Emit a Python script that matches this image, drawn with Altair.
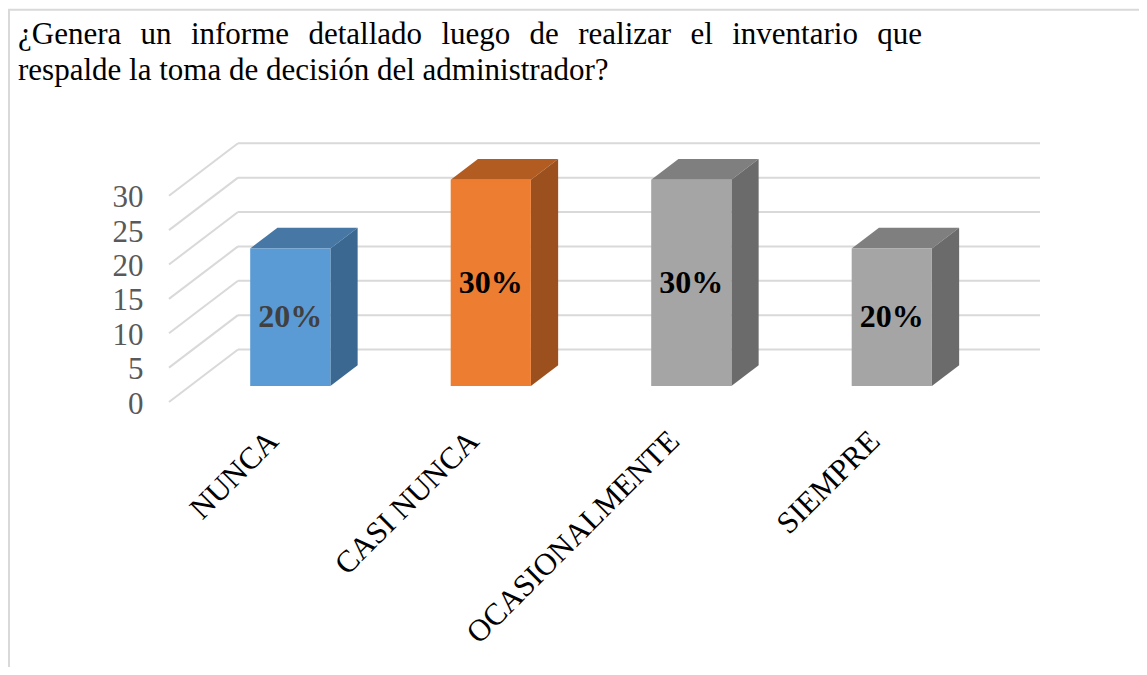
import json
import altair as alt
import pandas as pd

# ---------------- data ----------------
categories = ["NUNCA", "CASI NUNCA", "OCASIONALMENTE", "SIEMPRE"]
values = [20, 30, 30, 20]
pct_labels = ["20%", "30%", "30%", "20%"]
front_colors = ["#5B9BD5", "#ED7D31", "#A5A5A5", "#A5A5A5"]
side_colors = ["#3B6890", "#9B501D", "#6B6B6B", "#6B6B6B"]
top_colors = ["#4677A5", "#B35C22", "#7F7F7F", "#7F7F7F"]
label_colors = ["#404040", "#000000", "#000000", "#000000"]
y_ticks = [0, 5, 10, 15, 20, 25, 30]
title_line1 = "¿Genera un informe detallado luego de realizar el inventario que"
title_line2 = "respalde la toma de decisión del administrador?"

# ---------------- geometry (oblique 3D projection) ----------------
DX = 0.3441   # depth shift in category units
DY = 7.63     # depth shift in value units
D0, D1 = 0.305, 0.70   # bar front / back depth fraction
HALF = 0.2             # half bar width (category units)
X_MIN, X_MAX = -0.5, 3.5 + DX
Y_MAX = 40
W, H = 871, 275
PAD = {"left": 161, "top": 119, "right": 99, "bottom": 265}
FONT = "Liberation Serif"

xs = alt.Scale(domain=[X_MIN, X_MAX], nice=False, zero=False)
ys = alt.Scale(domain=[0, Y_MAX], nice=False, zero=False)


def px_to_x(p):
    return X_MIN + p / W * (X_MAX - X_MIN)


x_axis = alt.Axis(
    values=list(range(len(categories))),
    labelExpr=json.dumps(categories) + "[datum.value]", title=None,
    domain=False, ticks=False, grid=False, labelAngle=-45,
    labelAlign="right", labelBaseline="middle", labelPadding=34,
    labelOffset=4, labelOverlap=False, labelBound=False, labelFlush=False,
    labelLimit=0,
    labelFont=FONT, labelFontSize=31, labelColor="#000000", orient="bottom")
y_axis = alt.Axis(
    values=y_ticks, title=None, domain=False, ticks=False, grid=False,
    labelFont=FONT, labelFontSize=31, labelColor="#595959",
    labelPadding=26, labelOffset=2, orient="left")

# grid tables
grid = pd.DataFrame({"v": y_ticks})
grid["bx"] = X_MIN + DX
grid["bx2"] = len(categories) - 0.5 + DX
grid["by"] = grid["v"] + DY
grid["sx"] = X_MIN

back_wall = alt.Chart(grid).mark_rule(color="#D9D9D9", strokeWidth=2).encode(
    x=alt.X("bx:Q", scale=xs, axis=x_axis),
    x2="bx2:Q",
    y=alt.Y("by:Q", scale=ys, axis=y_axis),
)
side_wall = alt.Chart(grid).mark_rule(color="#D9D9D9", strokeWidth=2).encode(
    x=alt.X("sx:Q", scale=xs, axis=x_axis),
    x2="bx:Q",
    y=alt.Y("v:Q", scale=ys, axis=y_axis),
    y2="by:Q",
)

# bar tables
front_rows, side_rows, top_rows = [], [], []
for i, (c, v) in enumerate(zip(categories, values)):
    front_rows.append(dict(cat=c, x0=i - HALF + D0 * DX, x1=i + HALF + D0 * DX,
                           y0=D0 * DY, y1=v + D0 * DY, col=front_colors[i],
                           lx=i + D0 * DX, ly=v / 2 + D0 * DY,
                           lab=pct_labels[i], lcol=label_colors[i]))
    side_rows += [
        dict(cat=c, x=i + HALF + D0 * DX, lo=D0 * DY, hi=v + D0 * DY, col=side_colors[i]),
        dict(cat=c, x=i + HALF + D1 * DX, lo=D1 * DY, hi=v + D1 * DY, col=side_colors[i]),
    ]
    top_rows += [
        dict(cat=c, x=i - HALF + D0 * DX, lo=v + D0 * DY, hi=v + D0 * DY, col=top_colors[i]),
        dict(cat=c, x=i - HALF + D1 * DX, lo=v + D0 * DY, hi=v + D1 * DY, col=top_colors[i]),
        dict(cat=c, x=i + HALF + D0 * DX, lo=v + D0 * DY, hi=v + D1 * DY, col=top_colors[i]),
        dict(cat=c, x=i + HALF + D1 * DX, lo=v + D1 * DY, hi=v + D1 * DY, col=top_colors[i]),
    ]
front_df = pd.DataFrame(front_rows)
side_df = pd.DataFrame(side_rows)
top_df = pd.DataFrame(top_rows)

side_face = alt.Chart(side_df).mark_area(opacity=1).encode(
    x=alt.X("x:Q", scale=xs, axis=x_axis),
    y=alt.Y("lo:Q", scale=ys, axis=y_axis, stack=None),
    y2="hi:Q",
    color=alt.Color("col:N", scale=None),
    detail="cat:N",
)
top_face = alt.Chart(top_df).mark_area(opacity=1).encode(
    x=alt.X("x:Q", scale=xs, axis=x_axis),
    y=alt.Y("lo:Q", scale=ys, axis=y_axis, stack=None),
    y2="hi:Q",
    color=alt.Color("col:N", scale=None),
    detail="cat:N",
)
front_face = alt.Chart(front_df).mark_rect().encode(
    x=alt.X("x0:Q", scale=xs, axis=x_axis),
    x2="x1:Q",
    y=alt.Y("y0:Q", scale=ys, axis=y_axis),
    y2="y1:Q",
    color=alt.Color("col:N", scale=None),
)
pct_text = alt.Chart(front_df).mark_text(
    font=FONT, fontSize=32, fontWeight="bold").encode(
    x=alt.X("lx:Q", scale=xs, axis=x_axis),
    y=alt.Y("ly:Q", scale=ys, axis=y_axis),
    text="lab:N",
    color=alt.Color("lcol:N", scale=None),
)

# ---------------- title (justified first line) ----------------
TW = {' ': 250, '¿': 444, 'G': 722, 'e': 444, 'n': 500, 'r': 333, 'a': 444,
      'u': 500, 'i': 278, 'f': 333, 'o': 500, 'm': 778, 'd': 500, 't': 278,
      'l': 278, 'g': 500, 'z': 444, 'v': 500, 'q': 500, 's': 389, 'p': 500,
      'c': 444, 'ó': 500, '?': 444}
TFS = 31
words = title_line1.split(" ")
ww = [sum(TW.get(ch, 500) for ch in w) / 1000 * TFS for w in words]
x_start, x_end = 18 - 169, 922 - 169
gap = (x_end - x_start - sum(ww)) / (len(words) - 1)
pos, cur = [], x_start
for w in ww:
    pos.append(px_to_x(cur))
    cur += w + gap
title1_df = pd.DataFrame({"w": words, "px": pos})
title1 = alt.Chart(title1_df).mark_text(
    font=FONT, fontSize=TFS, align="left", baseline="alphabetic", color="#000000"
).encode(x=alt.X("px:Q", scale=xs, axis=x_axis), y=alt.value(44 - 127), text="w:N")
title2 = alt.Chart(pd.DataFrame({"t": [title_line2]})).mark_text(
    font=FONT, fontSize=TFS, align="left", baseline="alphabetic", color="#000000"
).encode(x=alt.value(18 - 169), y=alt.value(80 - 127), text="t:N")

# frame
frame_top = alt.Chart(pd.DataFrame({"k": [0]})).mark_rule(
    color="#D9D9D9", strokeWidth=2).encode(
    x=alt.value(-161), x2=alt.value(W + PAD["right"]), y=alt.value(-117.3))
frame_left = alt.Chart(pd.DataFrame({"k": [0]})).mark_rule(
    color="#D9D9D9", strokeWidth=2).encode(
    x=alt.value(-160), y=alt.value(-117.3), y2=alt.value(H + PAD["bottom"]))

chart = alt.layer(
    frame_top, frame_left, back_wall, side_wall,
    top_face, side_face, front_face, pct_text, title1, title2,
).properties(
    width=W, height=H,
    autosize=alt.AutoSizeParams(type="none"),
    padding=PAD,
    background="white",
).configure_view(stroke=None)

chart.save("out.html", embed_options={"renderer": "svg", "actions": False})
